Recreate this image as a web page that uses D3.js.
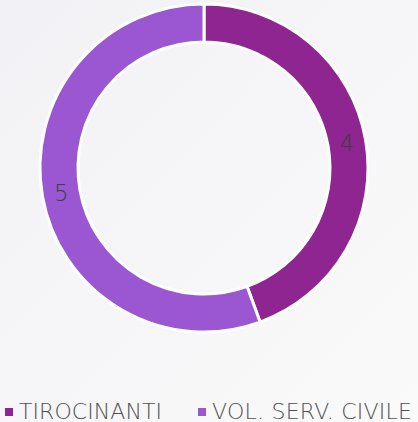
<!DOCTYPE html>
<html>
<head>
<meta charset="utf-8">
<script src="https://cdn.jsdelivr.net/npm/d3@7"></script>
<style>
  html, body { margin: 0; padding: 0; }
  body { width: 418px; height: 422px; overflow: hidden; }
</style>
</head>
<body>
<svg id="chart" width="418" height="422"></svg>
<script>
const categories = ["TIROCINANTI", "VOL. SERV. CIVILE"];
const values = [4, 5];
const colors = ["#8e2591", "#9a57d1"];

const svg = d3.select("#chart");
const width = +svg.attr("width");
const height = +svg.attr("height");

// soft background
const defs = svg.append("defs");
const grad = defs.append("linearGradient")
    .attr("id", "bg")
    .attr("x1", "0").attr("y1", "0")
    .attr("x2", "1").attr("y2", "1");
grad.append("stop").attr("offset", "0%").attr("stop-color", "#f2f1f5");
grad.append("stop").attr("offset", "100%").attr("stop-color", "#fafafa");
svg.append("rect").attr("width", width).attr("height", height).attr("fill", "url(#bg)");

const cx = 204, cy = 168;
const outerR = 164, innerR = 126;

const data = categories.map((c, i) => ({ name: c, value: values[i], color: colors[i] }));

const pie = d3.pie().value(d => d.value).sort(null);
const arc = d3.arc().innerRadius(innerR).outerRadius(outerR);
const labelArc = d3.arc().innerRadius((innerR + outerR) / 2).outerRadius((innerR + outerR) / 2);

const g = svg.append("g").attr("transform", `translate(${cx},${cy})`);

const arcs = pie(data);

g.selectAll("path")
    .data(arcs)
    .enter().append("path")
    .attr("d", arc)
    .attr("fill", d => d.data.color)
    .attr("stroke", "#ffffff")
    .attr("stroke-width", 3);

g.selectAll("text.val")
    .data(arcs)
    .enter().append("text")
    .attr("class", "val")
    .attr("transform", d => `translate(${labelArc.centroid(d)})`)
    .attr("text-anchor", "middle")
    .attr("dy", "0.36em")
    .attr("font-family", "DejaVu Sans, sans-serif")
    .attr("font-weight", 200)
    .attr("font-size", 23)
    .attr("fill", "#404040")
    .text(d => d.data.value);

// legend
const legendX = [5, 198];
const legendW = [143, 200];
const legendY = 411;
const legend = svg.append("g").selectAll("g")
    .data(data)
    .enter().append("g")
    .attr("transform", (d, i) => `translate(${legendX[i]},${legendY})`);

legend.append("rect")
    .attr("x", 0).attr("y", -3)
    .attr("width", 8).attr("height", 8)
    .attr("fill", d => d.color);

legend.append("text")
    .attr("x", 14)
    .attr("y", 7.5)
    .attr("font-family", "DejaVu Sans, sans-serif")
    .attr("font-weight", 200)
    .attr("font-size", 22)
    .attr("textLength", (d, i) => legendW[i])
    .attr("lengthAdjust", "spacing")
    .attr("fill", "#505050")
    .text(d => d.name);
</script>
</body>
</html>
